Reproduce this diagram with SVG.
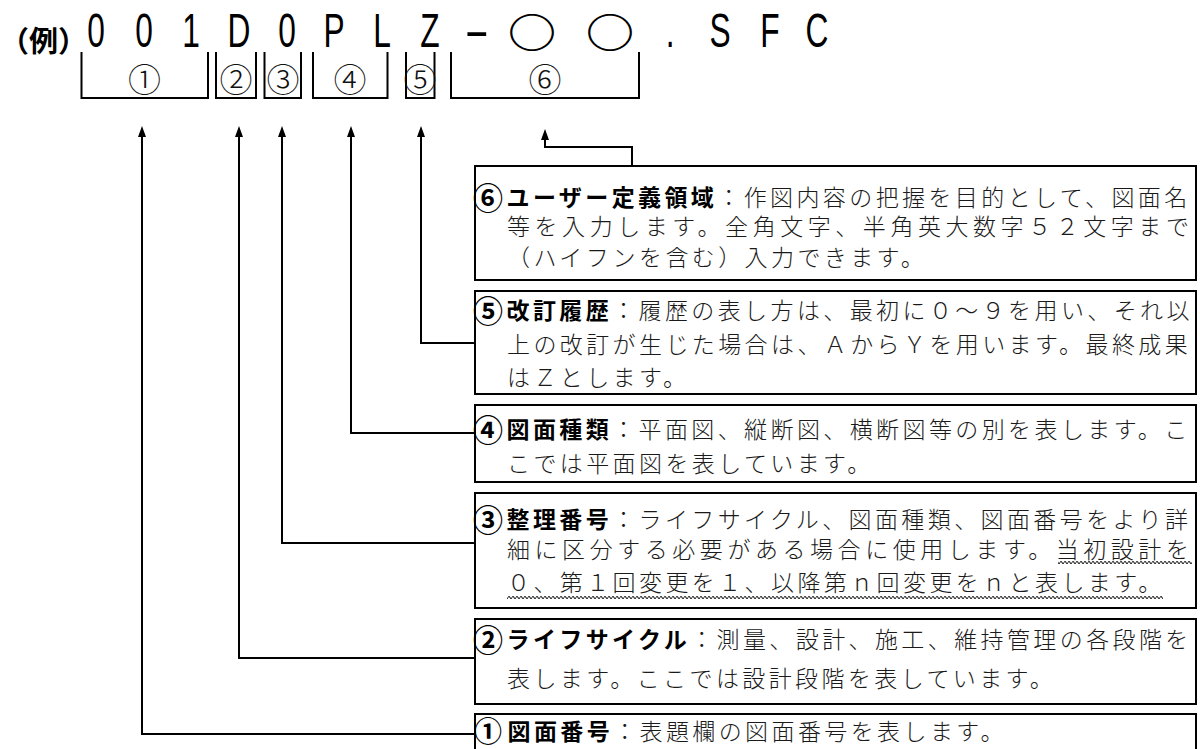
<svg xmlns="http://www.w3.org/2000/svg" width="1200" height="749" viewBox="0 0 1200 749">
<defs>
<style>
.big{font-family:"Liberation Sans",Arial,sans-serif;font-size:48px;fill:#000;text-anchor:middle}
.rei{font-family:"Noto Sans CJK JP",sans-serif;font-size:29px;font-weight:700;fill:#000;dominant-baseline:central}
.circ{font-family:"Noto Sans CJK JP",sans-serif;font-size:46px;font-weight:700;fill:#000;text-anchor:middle;dominant-baseline:central}
.lab{font-family:"Noto Sans CJK JP",sans-serif;font-size:33px;font-weight:300;fill:#111;text-anchor:middle;dominant-baseline:central}
.t{font-family:"Noto Sans CJK JP",sans-serif;font-size:23px;font-weight:300;fill:#1a1a1a;letter-spacing:3.4px;dominant-baseline:central}
.j{letter-spacing:4.55px}
.h{font-weight:700;fill:#000}
.n{font-size:30px;letter-spacing:3.5px}
.n2{font-size:28px;letter-spacing:5.5px}
.box{fill:#fff;stroke:#000;stroke-width:2}
.br{fill:none;stroke:#000;stroke-width:2}
.con{fill:none;stroke:#000;stroke-width:2;marker-end:url(#arr)}
</style>
<marker id="arr" viewBox="0 0 11 8" refX="7" refY="4" markerWidth="11" markerHeight="8" markerUnits="userSpaceOnUse" orient="auto">
<path d="M0,0 L11,4 L0,8 z" fill="#000"/>
</marker>
<pattern id="wv" x="0" y="0" width="4" height="5" patternUnits="userSpaceOnUse">
<path d="M0,2.5 Q1,0.6 2,2.5 T4,2.5" fill="none" stroke="#222" stroke-width="1.1"/>
</pattern>
</defs>
<rect width="1200" height="749" fill="#fff"/>

<g id="header">
<text class="rei" x="0" y="39">（例）</text>
<text class="big" transform="scale(0.66,1)" x="145.5 218.2 289.4 362.1 434.8 506.1 578.8 651.5" y="47">001D0PLZ</text>
<text class="big" transform="scale(1.6,1)" x="298" y="47">-</text>
<text class="circ" transform="translate(532,30) scale(1.055,0.88)" x="0" y="0">○</text>
<text class="circ" transform="translate(610,30) scale(1.055,0.88)" x="0" y="0">○</text>
<text class="big" transform="scale(0.66,1)" x="1015.2 1090.9 1166.7 1237.9" y="47">.SFC</text>
</g>

<g id="segments">
<g id="seg-1"><path class="br" d="M81.5,52 V98 H208 V52"/><text class="lab" x="144.5" y="77.5">①</text></g>
<g id="seg-2"><path class="br" d="M216,52 V98 H256 V52"/><text class="lab" x="236" y="77.5">②</text></g>
<g id="seg-3"><path class="br" d="M264.5,52 V98 H301 V52"/><text class="lab" x="283" y="77.5">③</text></g>
<g id="seg-4"><path class="br" d="M313,52 V98 H387.5 V52"/><text class="lab" x="350" y="77.5">④</text></g>
<g id="seg-5"><path class="br" d="M406,52 V98 H434.5 V52"/><text class="lab" x="420" y="77.5">⑤</text></g>
<g id="seg-6"><path class="br" d="M451,52 V98 H639 V52"/><text class="lab" x="545" y="77.5">⑥</text></g>
</g>

<g id="connectors">
<path class="con" d="M476,734 H142 V130"/>
<path class="con" d="M476,658 H239 V130"/>
<path class="con" d="M476,543 H282 V130"/>
<path class="con" d="M476,433 H351 V130"/>
<path class="con" d="M476,343 H421 V130"/>
<path class="con" d="M632,166 V147 H545 V133"/>
</g>

<g id="desc-6">
<rect class="box" x="475" y="166" width="721" height="114"/>
<text class="t" x="473" y="195.5"><tspan class="h n">⑥</tspan><tspan class="h">ユーザー定義領域</tspan>：作図内容の把握を目的として、図面名</text>
<text class="t j" x="507" y="225">等を入力します。全角文字、半角英大数字５２文字まで</text>
<text class="t" x="507" y="256">（ハイフンを含む）入力できます。</text>
</g>

<g id="desc-5">
<rect class="box" x="475" y="291" width="721" height="103"/>
<text class="t" x="473" y="308.5"><tspan class="h n">⑤</tspan><tspan class="h">改訂履歴</tspan>：履歴の表し方は、最初に０～９を用い、それ以</text>
<text class="t" x="507" y="343">上の改訂が生じた場合は、ＡからＹを用います。最終成果</text>
<text class="t" x="507" y="376">はＺとします。</text>
</g>

<g id="desc-4">
<rect class="box" x="475" y="405" width="721" height="77"/>
<text class="t" x="473" y="427.5"><tspan class="h n">④</tspan><tspan class="h">図面種類</tspan>：平面図、縦断図、横断図等の別を表します。こ</text>
<text class="t" x="507" y="461.5">こでは平面図を表しています。</text>
</g>

<g id="desc-3">
<rect class="box" x="475" y="493" width="721" height="115"/>
<text class="t" x="473" y="518"><tspan class="h n">③</tspan><tspan class="h">整理番号</tspan>：ライフサイクル、図面種類、図面番号をより詳</text>
<text class="t j" x="507" y="547.5">細に区分する必要がある場合に使用します。当初設計を</text>
<text class="t" x="507" y="581">０、第１回変更を１、以降第ｎ回変更をｎと表します。</text>
<rect x="1058" y="560" width="134" height="5" fill="url(#wv)"/>
<rect x="507" y="594" width="656" height="5" fill="url(#wv)"/>
</g>

<g id="desc-2">
<rect class="box" x="475" y="619" width="721" height="85"/>
<text class="t" x="473" y="638"><tspan class="h n">②</tspan><tspan class="h">ライフサイクル</tspan>：測量、設計、施工、維持管理の各段階を</text>
<text class="t" x="507" y="676.5">表します。ここでは設計段階を表しています。</text>
</g>

<g id="desc-1">
<rect class="box" x="475" y="714" width="721" height="60"/>
<text class="t" x="474" y="729.5"><tspan class="h n2">①</tspan><tspan class="h">図面番号</tspan>：表題欄の図面番号を表します。</text>
</g>
</svg>
